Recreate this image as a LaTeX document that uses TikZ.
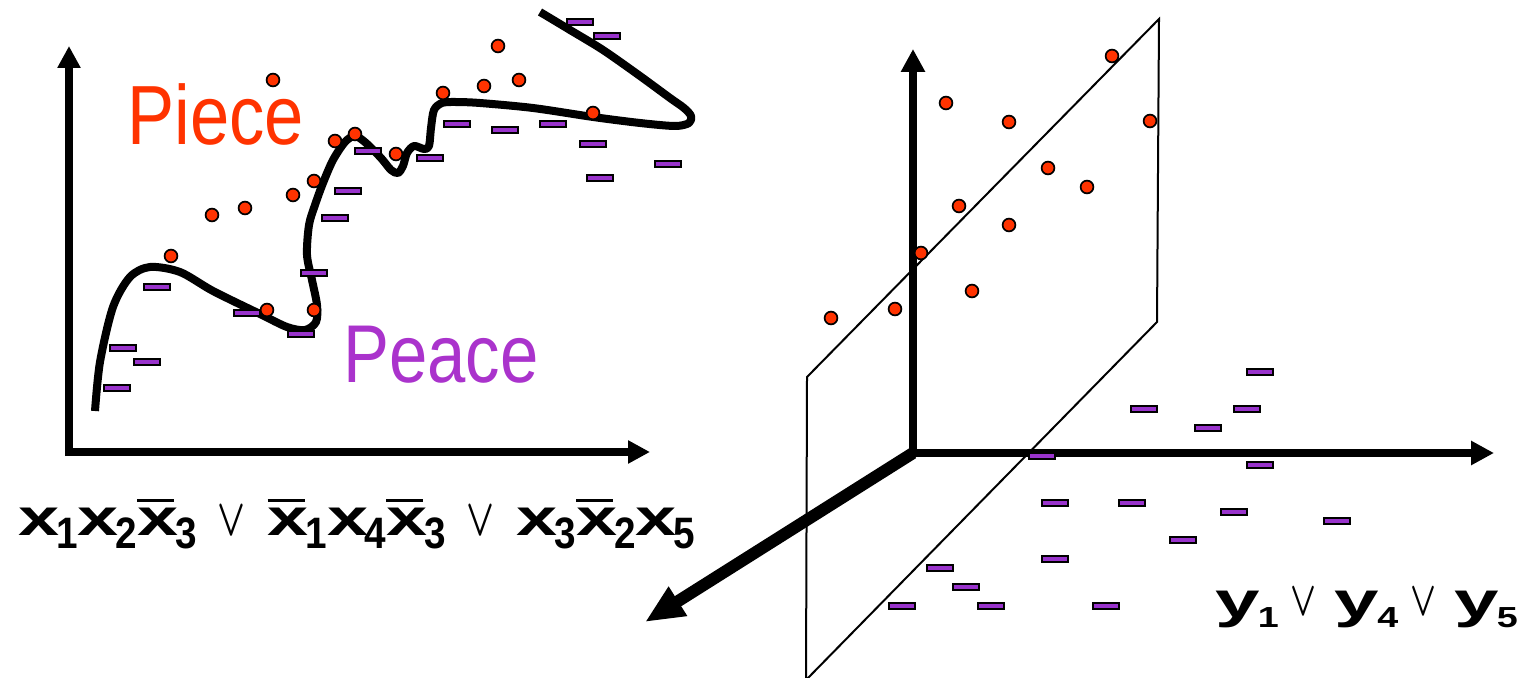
\documentclass[tikz,border=0pt]{standalone}
\usepackage{fontspec}
\setmainfont{Liberation Sans}
\usepackage{graphicx}
\usetikzlibrary{arrows.meta}
\definecolor{dotred}{RGB}{255,51,0}
\definecolor{minpur}{RGB}{153,51,204}
\definecolor{peacepur}{RGB}{170,51,204}
\newcommand\fbig{\fontsize{26}{26}\selectfont\bfseries}
\newcommand\fx{\scalebox{1.42}[1]{\fbig x}}
\newcommand\xs[1]{\fx\kern-1.6pt\raisebox{-6.5pt}{\scalebox{0.88}[1]{\fontsize{22}{22}\selectfont\bfseries #1}}}
\newcommand\xb[1]{\makebox[0pt][l]{\raisebox{16.6pt}{\rule{18.5pt}{1.3pt}}}\xs{#1}}
\newcommand\vor[3]{\makebox[#3][c]{\resizebox{#1}{#2}{\fontsize{20.74}{20.74}\selectfont\boldmath$\vee$}}}
\newcommand\ys[1]{\scalebox{1.6}[1]{\fontsize{25}{25}\selectfont\bfseries y}\kern-1pt\raisebox{-5pt}{\scalebox{1.3}[1]{\fontsize{14.5}{14.5}\selectfont\bfseries #1}}}
\begin{document}
\begin{tikzpicture}[x=0.5pt,y=-0.5pt,
  dot/.style={circle,draw=black,fill=dotred,line width=0.85pt,minimum size=6.4pt,inner sep=0pt},
  minus/.style={rectangle,draw=black,fill=minpur,line width=0.85pt,minimum width=13pt,minimum height=3.3pt,inner sep=0pt},
  axis/.style={line width=4pt,-{Triangle[length=11pt,width=11pt]}},
  raxis/.style={line width=3.8pt,-{Triangle[length=11.5pt,width=11.5pt]}},
  daxis/.style={line width=6pt,-{Triangle[length=19.5pt,width=16pt]}},
  plane/.style={line width=1pt,line join=miter},
  curve/.style={line width=4pt,line join=round},
  lbl/.style={inner sep=0pt,anchor=base west}]
\useasboundingbox (0,0) rectangle (1524,678);
% ---------- left panel ----------
\coordinate (LOv) at (69,456);
\coordinate (LOh) at (65,452);
\coordinate (LY) at (69,46);
\coordinate (LX) at (650,452);
\draw[axis] (LOv) -- (LY);
\draw[axis] (LOh) -- (LX);
\draw[curve] plot[smooth,tension=0.5] coordinates {
 (95,411) (100,362) (113,307) (130,277) (150,267) (180,272) (213,291)
 (260,314) (287,327) (305,330) (316,322) (317,305) (312,280) (307,255)
 (309,225) (315,205) (323,183) (333,160) (345,142) (355,136) (366,143)
 (381,158) (391,170) (398,173) (403,166) (407,153) (414,146) (424,149)
 (429,146) (431,128) (434,110) (442,103) (455,102) (480,103) (533,108)
 (593,117) (640,123) (675,126) (689,123) (691,116) (684,108) (670,98)
 (640,76) (603,50) (570,30) (540,12)};
\foreach \p [count=\i] in {(123,348),(147,362),(117,388),(157,287),(247,313),
  (301,334),(314,273),(335,218),(348,191),(368,151),(430,158),(457,124),
  (505,130),(553,124),(593,144),(600,178),(668,164),(580,22),(607,36)}
  \node[minus] (lm\i) at \p {};
\foreach \p [count=\i] in {(171,256),(267,310),(314,310),(293,195),(314,181),
  (335,141),(355,134),(396,154),(273,80),(212,215),(245,208),(443,93),
  (484,86),(498,46),(519,80),(593,113)}
  \node[dot] (ld\i) at \p {};
\node[lbl,text=dotred] (piece) at (127,145) {\fontsize{42}{42}\selectfont\scalebox{0.84}[1]{Piece}};
\node[lbl,text=peacepur] (peace) at (343,382) {\fontsize{41}{41}\selectfont\scalebox{0.84}[1]{Peace}};
\node[lbl] (fx) at (18,535) {\xs{1}\xs{2}\xb{3}\hspace{11.75pt}\vor{14pt}{14.5pt}{11.5pt}\hspace{12.25pt}\xb{1}\xs{4}\xb{3}\hspace{11.75pt}\vor{14pt}{14.5pt}{11.5pt}\hspace{12.25pt}\xs{3}\xb{2}\xs{5}};
% ---------- right panel ----------
\coordinate (P1) at (807,377);
\coordinate (P2) at (1159,19);
\coordinate (P3) at (1157,322);
\coordinate (P4) at (806,680);
\draw[plane] (P1) -- (P2) -- (P3) -- (P4) -- cycle;
\coordinate (RO) at (913,453);
\coordinate (ROv) at (913,455);
\coordinate (ROh) at (911,453);
\coordinate (RY) at (913,49);
\coordinate (RX) at (1494,453);
\coordinate (RZ) at (645,622);
\draw[raxis] (ROv) -- (RY);
\draw[raxis] (ROh) -- (RX);
\draw[daxis] (RO) -- (RZ);
\foreach \p [count=\i] in {(1112,56),(946,103),(1009,122),(1150,121),(1048,168),
  (1087,187),(959,206),(1009,225),(921,253),(972,291),(895,309),(831,318)}
  \node[dot] (rd\i) at \p {};
\foreach \p [count=\i] in {(1260,372),(1144,409),(1247,409),(1208,428),(1042,456),
  (1260,465),(1055,503),(1132,503),(1234,512),(1337,521),(1183,540),(1055,559),
  (940,568),(966,587),(902,606),(991,606),(1106,606)}
  \node[minus] (rm\i) at \p {};
\node[lbl] (fy) at (1215,617) {\ys{1}\hspace{7.5pt}\raisebox{1pt}{\vor{13pt}{13.5pt}{10pt}}\hspace{10.5pt}\ys{4}\hspace{7.5pt}\raisebox{1pt}{\vor{13pt}{13.5pt}{10pt}}\hspace{10.5pt}\ys{5}};
\end{tikzpicture}
\end{document}
